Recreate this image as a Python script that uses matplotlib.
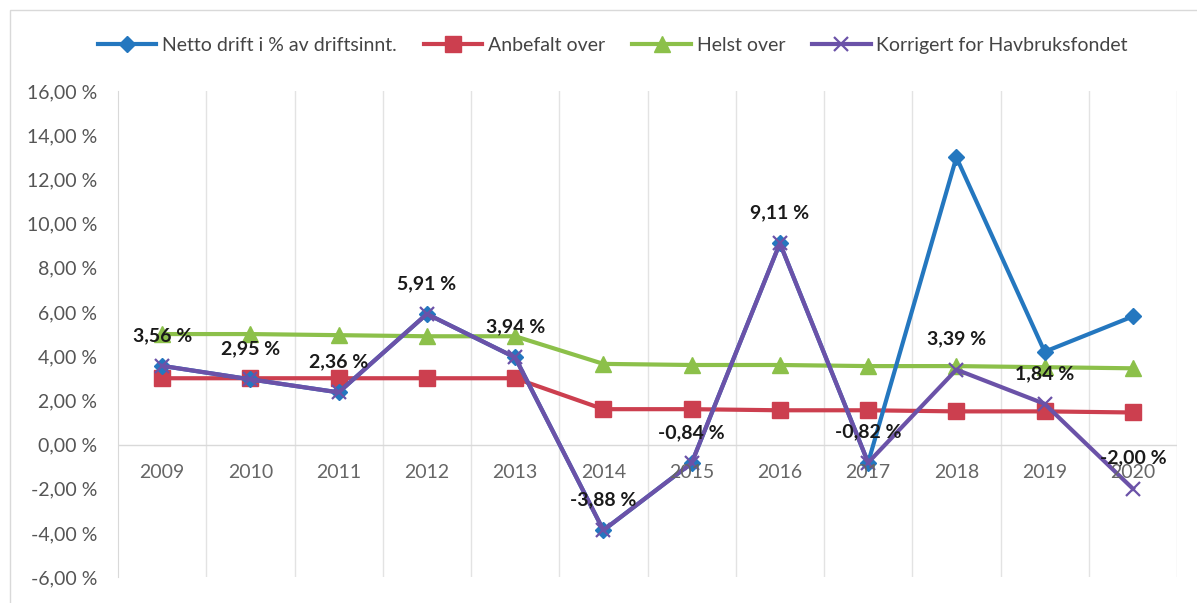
import matplotlib
matplotlib.use("Agg")
import matplotlib.pyplot as plt
from matplotlib.ticker import FuncFormatter, MultipleLocator
from matplotlib.patches import Rectangle

years = ["2009", "2010", "2011", "2012", "2013", "2014", "2015", "2016", "2017", "2018", "2019", "2020"]
netto = [3.56, 2.95, 2.36, 5.91, 3.94, -3.88, -0.84, 9.11, -0.82, 13.0, 4.2, 5.8]
anbefalt = [3.0, 3.0, 3.0, 3.0, 3.0, 1.6, 1.6, 1.55, 1.55, 1.5, 1.5, 1.45]
helst = [5.0, 5.0, 4.95, 4.9, 4.9, 3.65, 3.6, 3.6, 3.55, 3.55, 3.5, 3.45]
korrigert = [3.56, 2.95, 2.36, 5.91, 3.94, -3.88, -0.84, 9.11, -0.82, 3.39, 1.84, -2.00]
series_names = ["Netto drift i % av driftsinnt.", "Anbefalt over", "Helst over", "Korrigert for Havbruksfondet"]

plt.rcParams['font.family'] = ['Lato', 'DejaVu Sans']

fig = plt.figure(figsize=(11.97, 6.03), dpi=100)
ax = fig.add_axes([0.0986, 0.043, 0.8847, 0.806])

# chart frame
fig.patches.append(Rectangle((10/1197, -0.01), 1.02, (603-10)/603 + 0.01, transform=fig.transFigure,
                             fill=False, edgecolor='#d9d9d9', linewidth=1.0))

x = list(range(len(years)))
blue = '#2477BF'
red = '#CC3F4F'
green = '#8CC04A'
purple = '#6B52A8'

ax.plot(x, netto, color=blue, lw=3, marker='D', ms=8, label=series_names[0], zorder=3)
ax.plot(x, anbefalt, color=red, lw=3, marker='s', ms=11, label=series_names[1], zorder=2)
ax.plot(x, helst, color=green, lw=3, marker='^', ms=11, label=series_names[2], zorder=2)
ax.plot(x, korrigert, color=purple, lw=3, marker='x', ms=10, mew=1.6, label=series_names[3], zorder=4)

def fmt(v):
    return f"{v:.2f}".replace('.', ',') + " %"

for xi, v in zip(x, korrigert):
    ax.annotate(fmt(v), (xi, v), xytext=(0, 22), textcoords='offset points',
                ha='center', va='center', fontsize=14, fontweight='bold', color='#1a1a1a', zorder=6)

ax.set_xlim(-0.5, len(years) - 0.5)
ax.set_ylim(-6, 16)
ax.yaxis.set_major_locator(MultipleLocator(2))
ax.yaxis.set_major_formatter(FuncFormatter(lambda v, p: fmt(v)))

for s in ['top', 'right', 'bottom']:
    ax.spines[s].set_visible(False)
ax.spines['left'].set_color('#d9d9d9')
ax.axhline(0, color='#d9d9d9', lw=1, zorder=1)
for b in range(1, len(years) + 1):
    ax.axvline(b - 0.5, color='#e3e3e3', lw=1, zorder=0)

ax.set_xticks(x)
ax.set_xticklabels([])
for xi, yr in zip(x, years):
    ax.annotate(yr, (xi, 0), xytext=(0, -20), textcoords='offset points', ha='center', va='center',
                fontsize=14, color='#666666', zorder=5)
ax.tick_params(axis='x', length=0)
ax.tick_params(axis='y', length=0, labelsize=14, labelcolor='#555555', pad=15)

leg = fig.legend(loc='center', bbox_to_anchor=(0.512, 0.925), ncol=4, frameon=False,
                 fontsize=14, handlelength=3.0, columnspacing=1.4, handletextpad=0.3)
for t in leg.get_texts():
    t.set_color('#444444')

fig.savefig("out.png", dpi=100)
